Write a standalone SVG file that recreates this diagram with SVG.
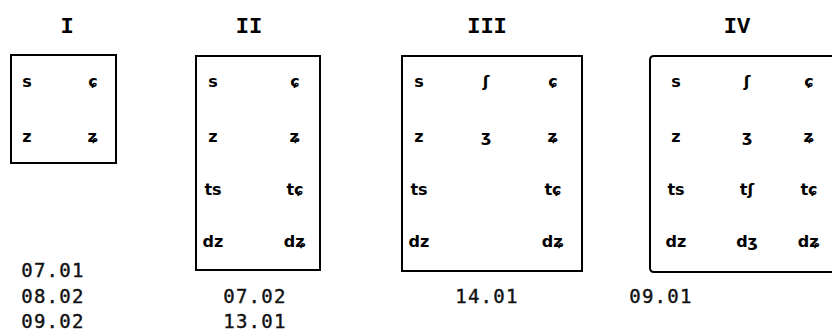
<svg xmlns="http://www.w3.org/2000/svg" width="832" height="334" viewBox="0 0 832 334">
  <style>
    .box { fill: none; stroke: #000; stroke-width: 2; }
    .num { font-family: "Liberation Mono", "DejaVu Sans Mono", monospace; font-weight: bold; font-size: 22px; text-anchor: middle; fill: #000; }
    .ph { font-family: "DejaVu Sans", "Noto Sans", sans-serif; font-weight: bold; font-size: 16px; text-anchor: middle; fill: #000; }
    .date { font-family: "DejaVu Sans Mono", "Liberation Mono", monospace; font-size: 19px; letter-spacing: 1.3px; text-anchor: middle; fill: #111; stroke: #111; stroke-width: 0.4; }
  </style>

  <!-- Chart I -->
  <g id="chart-I">
    <text class="num" x="67" y="33">I</text>
    <rect class="box" x="11" y="55" width="105" height="108"/>
    <text class="ph" x="27" y="87">s</text>
    <text class="ph" x="93" y="87">ɕ</text>
    <text class="ph" x="27" y="142">z</text>
    <text class="ph" x="93" y="142">ʑ</text>
  </g>

  <!-- Chart II -->
  <g id="chart-II">
    <text class="num" x="249" y="33">II</text>
    <rect class="box" x="196" y="56" width="124" height="214"/>
    <text class="ph" x="213" y="87">s</text>
    <text class="ph" x="295" y="87">ɕ</text>
    <text class="ph" x="213" y="142">z</text>
    <text class="ph" x="295" y="142">ʑ</text>
    <text class="ph" x="213" y="195">ts</text>
    <text class="ph" x="295" y="195">tɕ</text>
    <text class="ph" x="213" y="247">dz</text>
    <text class="ph" x="295" y="247">dʑ</text>
  </g>

  <!-- Chart III -->
  <g id="chart-III">
    <text class="num" x="487" y="33">III</text>
    <rect class="box" x="402" y="56" width="180" height="215"/>
    <text class="ph" x="419" y="87">s</text>
    <text class="ph" x="486" y="87">ʃ</text>
    <text class="ph" x="553" y="87">ɕ</text>
    <text class="ph" x="419" y="142">z</text>
    <text class="ph" x="486" y="142">ʒ</text>
    <text class="ph" x="553" y="142">ʑ</text>
    <text class="ph" x="419" y="195">ts</text>
    <text class="ph" x="553" y="195">tɕ</text>
    <text class="ph" x="419" y="247">dz</text>
    <text class="ph" x="553" y="247">dʑ</text>
  </g>

  <!-- Chart IV (runs off the right edge) -->
  <g id="chart-IV">
    <text class="num" x="737" y="33">IV</text>
    <path class="box" d="M 836 56 H 654 Q 650 56 650 60 V 268 Q 650 272 654 272 H 836"/>
    <text class="ph" x="676" y="87">s</text>
    <text class="ph" x="747" y="87">ʃ</text>
    <text class="ph" x="809" y="87">ɕ</text>
    <text class="ph" x="676" y="142">z</text>
    <text class="ph" x="747" y="142">ʒ</text>
    <text class="ph" x="809" y="142">ʑ</text>
    <text class="ph" x="676" y="195">ts</text>
    <text class="ph" x="747" y="195">tʃ</text>
    <text class="ph" x="809" y="195">tɕ</text>
    <text class="ph" x="676" y="247">dz</text>
    <text class="ph" x="747" y="247">dʒ</text>
    <text class="ph" x="809" y="247">dʑ</text>
  </g>

  <!-- Dates under each chart -->
  <g id="dates">
    <text class="date" x="53" y="277">07.01</text>
    <text class="date" x="53" y="303">08.02</text>
    <text class="date" x="53" y="328">09.02</text>
    <text class="date" x="255" y="303">07.02</text>
    <text class="date" x="255" y="328">13.01</text>
    <text class="date" x="487" y="303">14.01</text>
    <text class="date" x="661" y="303">09.01</text>
  </g>
</svg>
